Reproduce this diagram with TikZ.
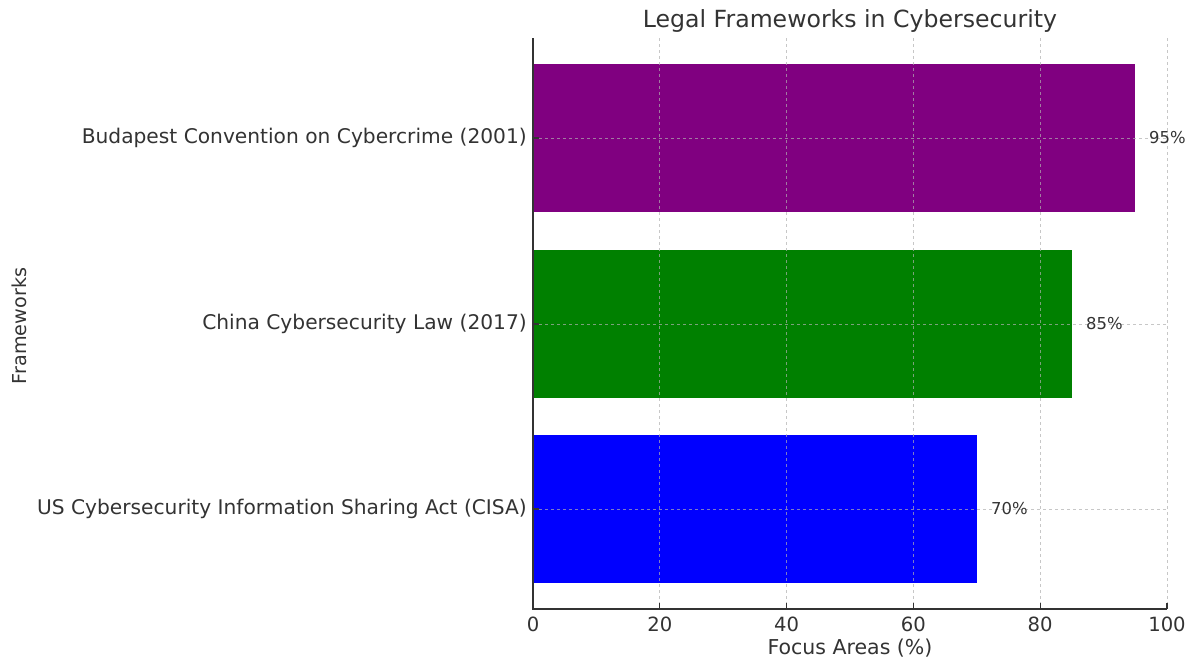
\documentclass[tikz,border=0pt]{standalone}
\usepackage{fontspec}
\setmainfont{DejaVu Sans}
\definecolor{txt}{RGB}{51,51,51}
\definecolor{barpurple}{RGB}{128,0,128}
\definecolor{bargreen}{RGB}{0,128,0}
\definecolor{barblue}{RGB}{0,0,255}
\definecolor{gridc}{RGB}{176,176,176}
\tikzset{
  gridline/.style={draw=gridc, line width=0.8pt, dash pattern=on 3pt off 3pt, opacity=0.7},
  spine/.style={draw=txt, line width=1.3pt},
  tickmark/.style={draw=txt, line width=1.1pt},
  ticklab/.style={text=txt, font=\fontsize{19.6}{23}\selectfont, inner sep=0pt},
  axislab/.style={text=txt, font=\fontsize{20}{24}\selectfont, inner sep=0pt},
  catlab/.style={text=txt, font=\fontsize{20.2}{24}\selectfont, inner sep=0pt, anchor=east},
  vallab/.style={text=txt, font=\fontsize{16.4}{19}\selectfont, inner sep=0pt, anchor=west},
  titlelab/.style={text=txt, font=\fontsize{23.6}{28}\selectfont, inner sep=0pt},
  bar/.style={draw=none}
}
\begin{document}
\begin{tikzpicture}[x=1pt,y=-1pt]
\useasboundingbox (0,0) rectangle (1195,659);
\fill[white] (0,0) rectangle (1195,659);
% bars
\fill[bar, fill=barpurple] (533,64) rectangle (1135.3,212);
\fill[bar, fill=bargreen] (533,250) rectangle (1071.9,398);
\fill[bar, fill=barblue] (533,435) rectangle (976.8,583);
% grid
\foreach \v in {0,20,40,60,80,100} {
  \draw[gridline] ({533+6.34*\v},38) -- ({533+6.34*\v},609);
}
\foreach \yy in {138,324,509} {
  \draw[gridline] (533,\yy) -- (1167,\yy);
}
% spines
\coordinate (origin) at (533,609);
\coordinate (ytop) at (533,38);
\coordinate (xend) at (1167,609);
\draw[spine] (ytop) -- (origin) -- (xend);
% x ticks
\foreach \v in {0,20,40,60,80,100} {
  \draw[tickmark] ({533+6.34*\v},609) -- ({533+6.34*\v},603);
  \node[ticklab] (xt\v) at ({533+6.34*\v},624) {\v};
}
% y ticks
\foreach \yy in {138,324,509} {
  \draw[tickmark] (533,\yy) -- (539,\yy);
}
% category labels
\node[catlab] (c1) at (527,138) {Budapest Convention on Cybercrime (2001)};
\node[catlab] (c2) at (527,324) {China Cybersecurity Law (2017)};
\node[catlab] (c3) at (527,509) {US Cybersecurity Information Sharing Act (CISA)};
% value labels
\node[vallab] (v1) at (1149,138) {95\%};
\node[vallab] (v2) at (1086,324) {85\%};
\node[vallab] (v3) at (991,509) {70\%};
% axis titles
\node[axislab, font=\fontsize{20.5}{24}\selectfont] (xlab) at (850,648) {Focus Areas (\%)};
\node[axislab, font=\fontsize{19.2}{23}\selectfont, rotate=90] (ylab) at (19,326) {Frameworks};
\node[titlelab] (title) at (850,21) {Legal Frameworks in Cybersecurity};
\end{tikzpicture}
\end{document}
